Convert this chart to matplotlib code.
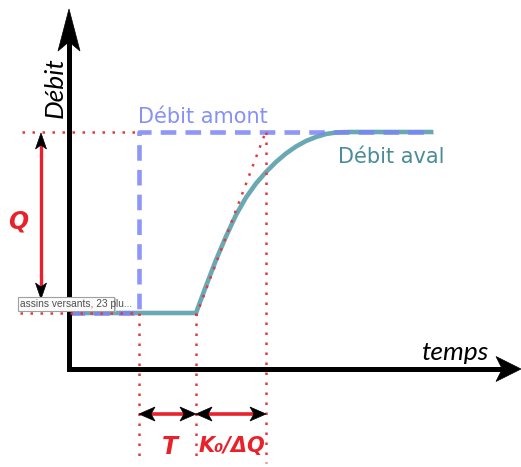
import matplotlib
matplotlib.use("Agg")
import matplotlib.pyplot as plt
from matplotlib.patches import Polygon, Rectangle
import numpy as np

# chart units: 1 unit = 1 px, origin at the axes corner
t_step = 70        # upstream step time
t_rise = 127       # downstream starts rising (step + T)
t_tangent = 197    # tangent reaches the new level (+ K0/dQ)
t_end = 364
q_low = 56
q_high = 237

upstream_t = [0, t_step, t_step, t_end]
upstream_q = [q_low, q_low, q_high, q_high]

downstream_t = [0, 127, 137, 147, 157, 167, 177, 187, 197, 207, 217, 227, 237, 247, 257, 267, 280, 300, 364]
downstream_q = [56, 56, 83, 109, 132.5, 154, 171.5, 185.5, 197, 207, 215.5, 222.5, 228, 232, 235, 236.5,
                237, 237, 237]

red = "#e8222b"
red_dot = "#e23a3a"
blue = "#7a84f6"
teal = "#6aa8b4"
teal_txt = "#4a8c98"

fig = plt.figure(figsize=(5.21, 4.67), dpi=100)
ax = fig.add_axes([0, 0, 1, 1])
ax.set_xlim(-69, 452)
ax.set_ylim(-98, 369)
ax.axis("off")


def head(tip, d, length, hw, notch=0.25, color="black", z=5):
    tip = np.array(tip, float)
    d = np.array(d, float)
    d = d / np.hypot(*d)
    p = np.array([-d[1], d[0]])
    base = tip - d * length
    pts = [tip, base + p * hw, tip - d * length * (1 - notch), base - p * hw]
    ax.add_patch(Polygon(pts, closed=True, fc=color, ec=color, lw=0.5, zorder=z))


def double_arrow(a, b, lw, length, hw):
    a = np.array(a, float)
    b = np.array(b, float)
    d = (b - a) / np.hypot(*(b - a))
    s, e = a + d * length * 0.7, b - d * length * 0.7
    ax.plot([s[0], e[0]], [s[1], e[1]], color=red, lw=lw, solid_capstyle="butt", zorder=4)
    head(b, d, length, hw)
    head(a, -d, length, hw)


# main axes with arrows
y_tip, x_tip = 360, 452
ax.plot([0, 0, x_tip - 18], [y_tip - 32, 0, 0], color="black", lw=3.6,
        solid_joinstyle="miter", solid_capstyle="butt", zorder=3)
head((0, y_tip), (0, 1), 42, 11, notch=0.22)
head((x_tip, 0), (1, 0), 25, 12.5, notch=0.25)

# curves
ax.plot(downstream_t, downstream_q, color=teal, lw=3.3, zorder=2, solid_capstyle="butt",
        solid_joinstyle="round")
ax.plot(upstream_t, upstream_q, color=blue, lw=3.3, alpha=0.85, zorder=2.5,
        dashes=(3.4, 2.0), solid_capstyle="butt")

# red dotted guides
dot = dict(color=red_dot, lw=1.8, ls=(0, (1, 3.0)), zorder=3)
ax.plot([-47, t_step], [q_high, q_high], **dot)
ax.plot([-49, t_step], [q_low, q_low], **dot)
ax.plot([t_step, t_step], [q_low, -93], **dot)
ax.plot([t_rise, t_rise], [q_low, -93], **dot)
ax.plot([t_tangent, t_tangent], [q_high, -94], **dot)
ax.plot([t_rise, t_tangent], [q_low - 3, q_high + 1], **dot)

lab = dict(color=red, family="DejaVu Sans", weight="bold", style="italic",
           ha="center", va="center")

# Q span arrow
double_arrow((-28, 70), (-28, 236), 2.4, 16, 5.5)
ax.text(-51, 148, "Q", fontsize=17, **lab)

# T and K0/dQ arrows
arrow_q = -45
double_arrow((t_step, arrow_q), (t_rise, arrow_q), 2.6, 16, 7)
double_arrow((t_rise, arrow_q), (t_tangent, arrow_q), 2.6, 16, 7)
ax.text((t_step + t_rise) / 2 + 2, -78, "T", fontsize=17, **lab)
ax.text((t_rise + t_tangent) / 2 + 1, -77, "K\u2080/\u0394Q", fontsize=15, **lab)

# labels
ax.text(69, 246, "Débit amont", color=blue, alpha=0.9, fontsize=15, family="DejaVu Sans",
        ha="left", va="baseline")
ax.text(269, 206, "Débit aval", color=teal_txt, fontsize=15, family="DejaVu Sans",
        ha="left", va="baseline")
ax.text(-14, 281, "Débit", rotation=90, fontsize=19, family="Lato", style="italic",
        ha="center", va="center")
ax.text(386, 17, "temps", fontsize=19, family="Lato", style="italic",
        ha="center", va="center")

# tooltip box
ax.add_patch(Rectangle((-49, 57), 96, 14, fc="#c8c8c8", ec="none", zorder=6))
ax.add_patch(Rectangle((-51, 58), 96, 14, fc="#fbfbfb", ec="#a0a0a0", lw=0.8, zorder=6))
ax.text(-49, 65, "assins versants, 23 plu...", fontsize=7.3, color="#505050",
        family=["Liberation Sans Narrow", "Liberation Sans"], ha="left", va="center", zorder=7)

fig.savefig("out.png", dpi=100)
